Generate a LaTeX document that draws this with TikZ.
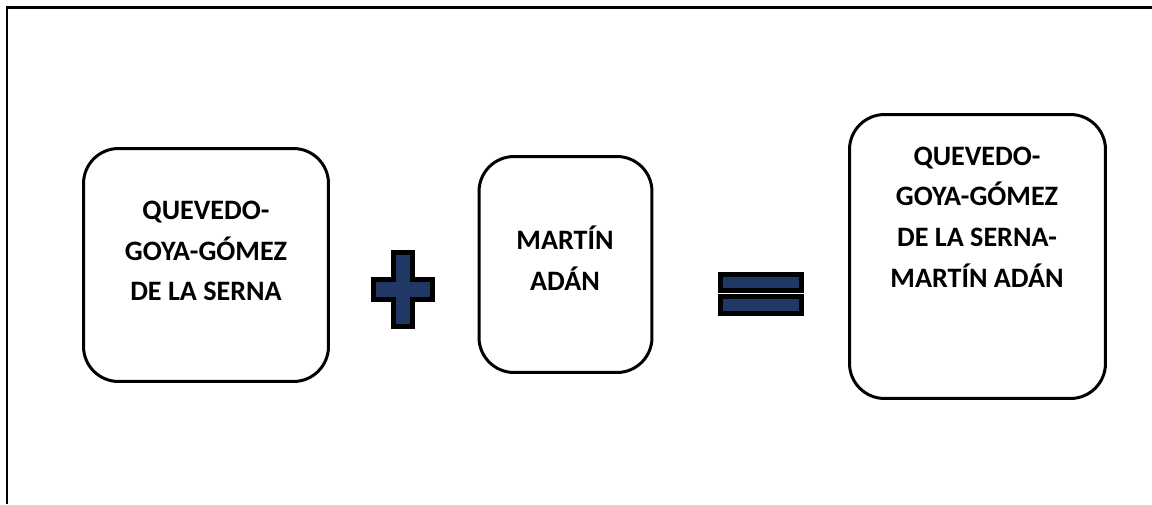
\documentclass[tikz,border=0pt]{standalone}
\usepackage{fontspec}
\setmainfont{Carlito}
\usepackage{tikz}
\usetikzlibrary{positioning}
\definecolor{signblue}{RGB}{31,56,100}

\tikzset{
  namebox/.style={draw=black, line width=0.06cm, rounded corners=0.7cm, fill=white},
  nametext/.style={align=center, inner sep=0pt, font=\bfseries\fontsize{16}{23.2}\selectfont},
  opsign/.style={draw=black, fill=signblue, line width=0.1cm, miter limit=10}
}

\begin{document}
\begin{tikzpicture}[x=0.02cm, y=-0.02cm]
\useasboundingbox (0,0) rectangle (1152,504);

% page frame (only top and left edges show)
\draw[line width=0.045cm] (7,504) -- (7,7.5) -- (1152,7.5);

% the three name boxes
\node[namebox, minimum width=4.9cm, minimum height=4.66cm] (left) at (206,265) {};
\node[namebox, minimum width=3.46cm, minimum height=4.32cm] (middle) at (565.5,264.5) {};
\node[namebox, minimum width=5.12cm, minimum height=5.68cm] (result) at (977.5,256.5) {};

% names
\node[nametext] (lefttext) at (206,251) {QUEVEDO-\\GOYA-GÓMEZ\\DE LA SERNA};
\node[nametext] (middletext) at (565,258) {MARTÍN\\ADÁN};
\node[nametext] (resulttext) at (977,217) {QUEVEDO-\\GOYA-GÓMEZ\\DE LA SERNA-\\MARTÍN ADÁN};

% plus sign
\draw[opsign] (393.5,252) -- (412.5,252) -- (412.5,279) -- (432.5,279) -- (432.5,299)
  -- (412.5,299) -- (412.5,326) -- (393.5,326) -- (393.5,299) -- (373.5,299)
  -- (373.5,279) -- (393.5,279) -- cycle;

% equals sign
\draw[opsign] (720.5,274.5) rectangle (801.5,290.5);
\draw[opsign] (720.5,296.5) rectangle (801.5,313.5);
\end{tikzpicture}
\end{document}
